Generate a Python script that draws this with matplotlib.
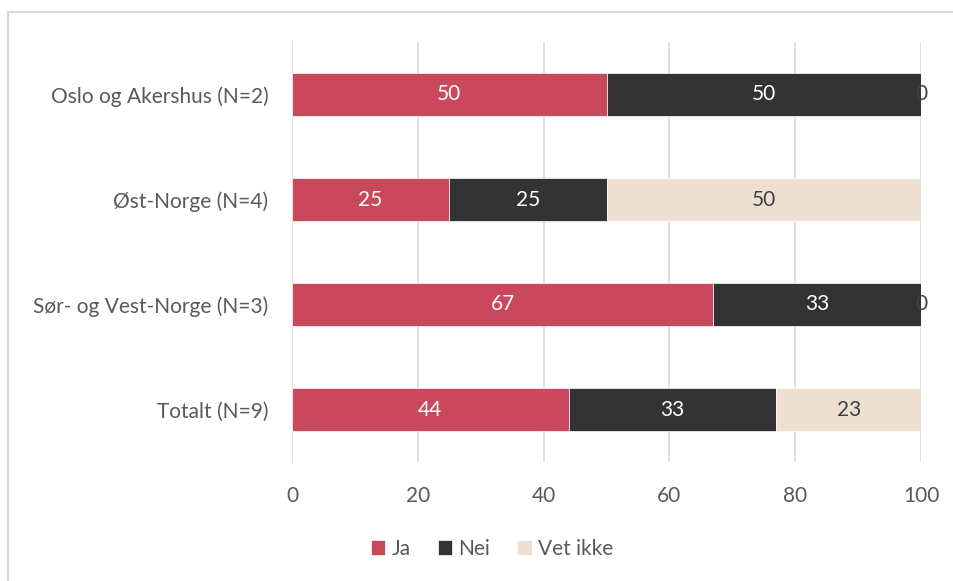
import numpy as np
import matplotlib.pyplot as plt
from matplotlib.patches import Rectangle

plt.rcParams["font.family"] = ["Lato", "DejaVu Sans"]

# --------------------------------------------------
# Data
# --------------------------------------------------
categories = ["Oslo og Akershus (N=2)", "Øst-Norge (N=4)",
              "Sør- og Vest-Norge (N=3)", "Totalt (N=9)"]
ja = [50, 25, 67, 44]
nei = [50, 25, 33, 33]
vet_ikke = [0, 50, 0, 23]
series_names = ["Ja", "Nei", "Vet ikke"]
xticks = [0, 20, 40, 60, 80, 100]

colors = ["#C9485B", "#333333", "#EDE0D1"]
label_colors = ["white", "white", "#404040"]
text_gray = "#595959"
fs = 15

fig = plt.figure(figsize=(9.54, 5.81), dpi=100)
ax = fig.add_axes([292 / 954, 1 - 462 / 581, 629 / 954, 420 / 581])

# frame around the chart area (top and left visible)
fig.patches.append(Rectangle((8 / 954, -0.1), 1.2, 1 - 12 / 581 + 0.1,
                             transform=fig.transFigure, fill=False,
                             edgecolor="#D9D9D9", linewidth=1.5))

# --------------------------------------------------
# Bars
# --------------------------------------------------
y = np.arange(len(categories))
left = np.zeros(len(categories))
for vals, name, col, lcol in zip([ja, nei, vet_ikke], series_names,
                                 colors, label_colors):
    vals = np.array(vals, dtype=float)
    bars = ax.barh(y, vals, left=left, height=0.41, color=col,
                   edgecolor="white", linewidth=0.5, label=name, zorder=2)
    for b, v in zip(bars, vals):
        c = lcol if v > 0 else "#404040"
        ax.text(b.get_x() + b.get_width() / 2, b.get_y() + b.get_height() / 2,
                f"{v:.0f}", ha="center", va="center", color=c,
                fontsize=fs, zorder=3)
    left += vals

# --------------------------------------------------
# Axes styling
# --------------------------------------------------
ax.set_xlim(0, 100)
ax.set_ylim(len(categories) - 0.5, -0.5)
ax.set_xticks(xticks)
ax.set_yticks(y)
ax.set_yticklabels(categories)
ax.grid(axis="x", color="#D9D9D9", linewidth=1.2, zorder=0)
ax.set_axisbelow(True)
for s in ax.spines.values():
    s.set_visible(False)
ax.tick_params(axis="both", length=0, labelsize=fs, colors=text_gray)
ax.tick_params(axis="x", pad=17)
ax.tick_params(axis="y", pad=17)

fig.legend(loc="center", bbox_to_anchor=(492 / 954, 1 - 549 / 581),
           ncol=3, frameon=False, fontsize=fs,
           handlelength=0.7, handleheight=0.7, handletextpad=0.3,
           columnspacing=1.3, labelcolor=text_gray)

fig.savefig("out.png", dpi=100)
